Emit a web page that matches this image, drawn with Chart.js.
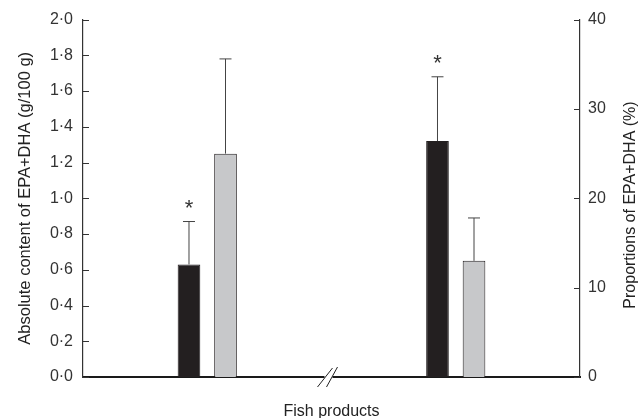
<!DOCTYPE html>
<html>
<head>
<meta charset="utf-8">
<script src="https://cdn.jsdelivr.net/npm/chart.js@4"></script>
<style>
  body { margin: 0; background: #fff; }
  #wrap { width: 639px; height: 418px; }
</style>
</head>
<body>
<div id="wrap"><canvas id="fish"></canvas></div>
<script>
// two groups: absolute content (left axis) and proportions (right axis)
const groups = ['Absolute content', 'Proportions'];
const groupAxis = ['yL', 'yR'];
const blackMean = [0.63, 26.4];
const blackUpper = [0.87, 33.6];
const greyMean = [1.25, 13.0];
const greyUpper = [1.78, 17.8];
const blackStar = [true, true];
const greyStar = [false, false];

const FONT = "'Liberation Sans', Arial, sans-serif";

function only(arr, g) {
    return arr.map((v, i) => (i === g ? v : null));
}

const datasets = [];
groups.forEach((_, g) => {
    datasets.push({
        data: only(blackMean, g),
        upper: only(blackUpper, g),
        star: only(blackStar, g),
        yAxisID: groupAxis[g],
        backgroundColor: '#231f20',
        borderColor: '#231f20',
        borderWidth: 1
    });
    datasets.push({
        data: only(greyMean, g),
        upper: only(greyUpper, g),
        star: only(greyStar, g),
        yAxisID: groupAxis[g],
        backgroundColor: '#c7c8ca',
        borderColor: '#231f20',
        borderWidth: 1
    });
});

// error bars, asterisks, inward ticks, axis break, right title
const extras = {
    id: 'extras',
    afterDatasetsDraw(chart) {
        const ctx = chart.ctx;
        ctx.save();
        chart.data.datasets.forEach((ds, i) => {
            const meta = chart.getDatasetMeta(i);
            const scale = chart.scales[ds.yAxisID];
            meta.data.forEach((el, j) => {
                if (ds.data[j] === null) return;
                const top = scale.getPixelForValue(ds.upper[j]);
                ctx.strokeStyle = '#444';
                ctx.lineWidth = 1;
                ctx.beginPath();
                ctx.moveTo(el.x, el.y);
                ctx.lineTo(el.x, top);
                ctx.moveTo(el.x - 6, top);
                ctx.lineTo(el.x + 6, top);
                ctx.stroke();
                if (ds.star[j]) {
                    ctx.fillStyle = '#333';
                    ctx.font = '22px ' + FONT;
                    ctx.textAlign = 'center';
                    ctx.textBaseline = 'alphabetic';
                    ctx.fillText('*', el.x, top - 7);
                }
            });
        });
        ctx.restore();
    },
    afterDraw(chart) {
        const ctx = chart.ctx;
        const area = chart.chartArea;
        const yL = chart.scales.yL, yR = chart.scales.yR, x = chart.scales.x;
        ctx.save();
        ctx.strokeStyle = '#333';
        ctx.lineWidth = 1.2;
        ctx.beginPath();
        yL.ticks.forEach(t => {
            const y = Math.round(yL.getPixelForValue(t.value)) + 0.5;
            ctx.moveTo(area.left, y);
            ctx.lineTo(area.left + 6, y);
        });
        yR.ticks.forEach(t => {
            const y = Math.round(yR.getPixelForValue(t.value)) + 0.5;
            ctx.moveTo(area.right - 6, y);
            ctx.lineTo(area.right, y);
        });
        ctx.stroke();

        // axis break
        const mid = (x.getPixelForValue(0) + x.getPixelForValue(1)) / 2 - 3;
        const yb = area.bottom;
        ctx.fillStyle = '#fff';
        ctx.fillRect(mid - 4, yb - 3, 8, 6);
        ctx.strokeStyle = '#222';
        ctx.lineWidth = 1;
        ctx.beginPath();
        ctx.moveTo(mid - 11, yb + 10);
        ctx.lineTo(mid + 4, yb - 9);
        ctx.moveTo(mid - 2, yb + 10);
        ctx.lineTo(mid + 9, yb - 10);
        ctx.stroke();

        // right axis title, reading bottom to top
        ctx.fillStyle = '#222';
        ctx.font = '16px ' + FONT;
        ctx.textAlign = 'center';
        ctx.textBaseline = 'middle';
        ctx.translate(631, 205);
        ctx.rotate(-Math.PI / 2);
        ctx.fillText('Proportions of EPA+DHA (%)', 0, 0);
        ctx.restore();
    }
};

new Chart(document.getElementById('fish'), {
    type: 'bar',
    data: { labels: groups, datasets: datasets },
    plugins: [extras],
    options: {
        responsive: true,
        maintainAspectRatio: false,
        animation: false,
        layout: { padding: { top: 19, bottom: 0, left: 0, right: 0 } },
        datasets: {
            bar: { skipNull: true, barPercentage: 0.62, categoryPercentage: 0.294 }
        },
        plugins: { legend: { display: false }, tooltip: { enabled: false } },
        scales: {
            x: {
                type: 'category',
                offset: true,
                grid: { display: false, drawTicks: false },
                border: { display: true, color: '#1a1a1a', width: 2 },
                ticks: { display: false },
                title: {
                    display: true,
                    text: 'Fish products',
                    color: '#222',
                    font: { family: FONT, size: 16 },
                    padding: { top: 0, bottom: -3 }
                },
                afterFit(s) { s.height = 41; }
            },
            yL: {
                position: 'left',
                min: 0,
                max: 2,
                grid: { display: false, drawTicks: false },
                border: { display: true, color: '#333', width: 1.2 },
                ticks: {
                    stepSize: 0.2,
                    padding: 10,
                    color: '#333',
                    font: { family: FONT, size: 16 },
                    callback: v => v.toFixed(1).replace('.', '\u00b7')
                },
                title: {
                    display: true,
                    text: 'Absolute content of EPA+DHA (g/100 g)',
                    color: '#222',
                    font: { family: FONT, size: 16.5 },
                    padding: { top: 16, bottom: 0 }
                },
                afterFit(s) { s.width = 83; }
            },
            yR: {
                position: 'right',
                min: 0,
                max: 40,
                grid: { display: false, drawTicks: false },
                border: { display: true, color: '#333', width: 1.2 },
                ticks: {
                    stepSize: 10,
                    padding: 8,
                    color: '#333',
                    font: { family: FONT, size: 16 }
                },
                afterFit(s) { s.width = 59; }
            }
        }
    }
});
</script>
</body>
</html>
